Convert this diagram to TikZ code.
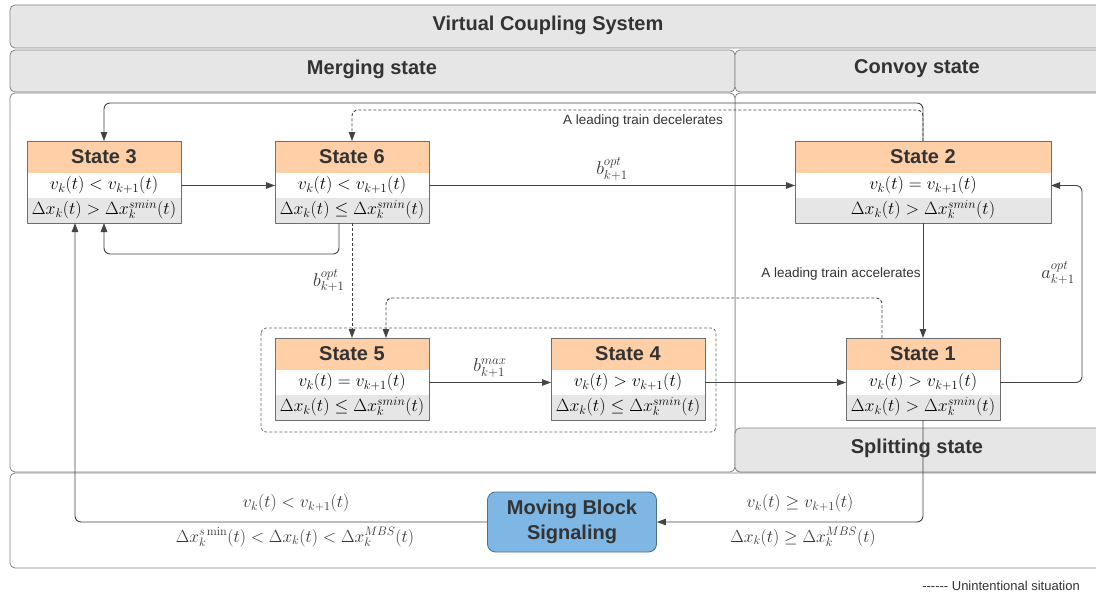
\RequirePackage{fix-cm}
\documentclass[tikz,border=0pt]{standalone}
\usepackage[no-math]{fontspec}
\setmainfont{Liberation Sans}
\usetikzlibrary{arrows.meta,fit}

\definecolor{panelfill}{HTML}{E6E6E6}
\definecolor{panelline}{HTML}{858585}
\definecolor{peach}{HTML}{FFD0A8}
\definecolor{rowgray}{HTML}{E6E6E6}
\definecolor{boxline}{HTML}{6E6E6E}
\definecolor{ink}{HTML}{333333}
\definecolor{wire}{HTML}{444444}
\definecolor{mbsblue}{HTML}{7EB6E4}
\definecolor{mbsline}{HTML}{4D6F8F}

% one train state: title bar plus two condition rows
% #1 name, #2 left, #3 top, #4 width, #5 title, #6 speed row, #7 gap row
\newcommand\trainstate[7]{%
  \node[sthead, minimum width=#4, anchor=north west] (#1-h) at (#2,#3) {#5};
  \node[strow, minimum width=#4, fill=white, anchor=north] (#1-a) at (#1-h.south) {$#6$};
  \node[strow, minimum width=#4, fill=rowgray, anchor=north] (#1-b) at (#1-a.south) {$#7$};
  \node[stframe, fit=(#1-h)(#1-b)] (#1) {};
}

\begin{document}
\begin{tikzpicture}[x=1pt, y=-1pt, line join=round,
  panel/.style={draw=panelline, fill=panelfill, rounded corners=5pt, line width=0.8pt},
  body/.style={draw=panelline, fill=white, rounded corners=5pt, line width=0.8pt},
  paneltitle/.style={font=\fontsize{20}{24}\selectfont\bfseries, text=ink},
  sthead/.style={fill=peach, draw=boxline, line width=0.8pt, inner sep=0pt, outer sep=0pt,
    minimum height=32pt, font=\fontsize{20}{24}\selectfont\bfseries, text=ink},
  strow/.style={inner sep=0pt, outer sep=0pt, minimum height=25pt,
    text height=12pt, text depth=4pt, font=\fontsize{17.8}{21}\selectfont},
  stframe/.style={draw=boxline, line width=0.8pt, inner sep=0pt, outer sep=0pt},
  conn/.style={draw=wire, line width=0.9pt, rounded corners=6pt,
    -{Triangle[length=9pt,width=6.5pt]}},
  dconn/.style={conn, dash pattern=on 3pt off 2pt},
  mathlbl/.style={font=\fontsize{18.5}{21}\selectfont, text=ink, inner sep=1pt},
  condlbl/.style={font=\fontsize{17.5}{20}\selectfont, text=ink, inner sep=1pt},
  note/.style={font=\fontsize{13.5}{16}\selectfont, text=ink, inner sep=1pt},
  mbsbox/.style={draw=mbsline, fill=mbsblue, line width=0.8pt, rounded corners=8pt,
    minimum width=169pt, minimum height=60pt, align=center, inner sep=0pt,
    font=\fontsize{20}{25}\selectfont\bfseries, text=ink},
  group/.style={draw=wire!80, line width=0.8pt, rounded corners=5pt, dash pattern=on 3pt off 2pt}
]
\useasboundingbox (0,0) rectangle (1096,594);
\fill[white] (0,0) rectangle (1096,594);

% frame of the system and its state regions
\draw[panel] (10,5) rectangle (1112,48);
\node[paneltitle] (vcs) at (548,25) {Virtual Coupling System};
\draw[panel] (10,50) rectangle (735,92);
\node[paneltitle] (merging) at (372,69) {Merging state};
\draw[panel] (735,50) rectangle (1112,92);
\node[paneltitle] (convoy) at (917,69) {Convoy state};
\draw[body] (735,93) rectangle (1112,472);
\draw[body] (10,93) rectangle (735,472);
\draw[panel] (735,428) rectangle (1112,472);
\node[paneltitle] (splitting) at (917,448) {Splitting state};
\draw[body] (10,473) rectangle (1112,568);

% dashed group round states 5 and 4
\draw[group] (261,328) rectangle (716,432);

% states
\trainstate{s3}{27}{141}{154pt}{State 3}{v_k(t) < v_{k+1}(t)}{\Delta x_k(t) > \Delta x_k^{smin}(t)}
\trainstate{s6}{275}{141}{154pt}{State 6}{v_k(t) < v_{k+1}(t)}{\Delta x_k(t) \leq \Delta x_k^{smin}(t)}
\trainstate{s2}{795}{141}{256pt}{State 2}{v_k(t) = v_{k+1}(t)}{\Delta x_k(t) > \Delta x_k^{smin}(t)}
\trainstate{s5}{275}{338}{154pt}{State 5}{v_k(t) = v_{k+1}(t)}{\Delta x_k(t) \leq \Delta x_k^{smin}(t)}
\trainstate{s4}{551}{338}{154pt}{State 4}{v_k(t) > v_{k+1}(t)}{\Delta x_k(t) \leq \Delta x_k^{smin}(t)}
\trainstate{s1}{846}{338}{154pt}{State 1}{v_k(t) > v_{k+1}(t)}{\Delta x_k(t) > \Delta x_k^{smin}(t)}

\node[mbsbox] (mbs) at (572,522) {Moving Block\\Signaling};

% transitions
\draw[conn] (s3-a.east) -- (s6-a.west);
\draw[conn] (s6-a.east) -- (s2-a.west)
  node[mathlbl, midway, above=4pt] (lb62) {$b^{opt}_{k+1}$};
\draw[conn] ([xshift=-13pt]s6.south) -- ++(0,31) -| (s3.south);
\draw[conn] (s2.north) -- ++(0,-38) -| (s3.north);
\draw[dconn] (s2.north) -- ++(0,-31) -| (s6.north);
\node[note] (dec) at (643,121) {A leading train decelerates};
\draw[dconn] (s6.south) -- (s5.north)
  node[mathlbl, pos=0.5, left=6pt] (lb65) {$b^{opt}_{k+1}$};
\draw[dconn] ([xshift=-41pt]s1.north) -- ++(0,-40) -| ([xshift=34pt]s5.north);
\draw[conn] (s5-a.east) -- (s4-a.west)
  node[mathlbl, midway, above=4pt] (lb54) {$b^{max}_{k+1}$};
\draw[conn] (s4-a.east) -- (s1-a.west);
\draw[conn] (s2.south) -- (s1.north)
  node[note, pos=0.44, left=1pt] (acc) {A leading train accelerates};
\draw[conn] (s1-a.east) -- ++(82,0) |- (s2-a.east);
\node[mathlbl] (lb12) at (1058,273) {$a^{opt}_{k+1}$};
\draw[conn] (s1.south) |- (mbs.east);
\draw[conn] (mbs.west) -| ([xshift=-29pt]s3.south);

% conditions for falling back to moving block signalling
\node[condlbl] (c1) at (800,503) {$v_k(t) \geq v_{k+1}(t)$};
\node[condlbl] (c2) at (803,537) {$\Delta x_k(t) \geq \Delta x_k^{MBS}(t)$};
\node[condlbl] (c3) at (296,503) {$v_k(t) < v_{k+1}(t)$};
\node[condlbl] (c4) at (295,537) {$\Delta x_k^{s\min}(t) < \Delta x_k(t) < \Delta x_k^{MBS}(t)$};

% legend
\node[note, anchor=east, font=\fontsize{13}{16}\selectfont] (legend) at (1081,586)
  {-{}-{}-{}-{}-{}- Unintentional situation};
\end{tikzpicture}
\end{document}
